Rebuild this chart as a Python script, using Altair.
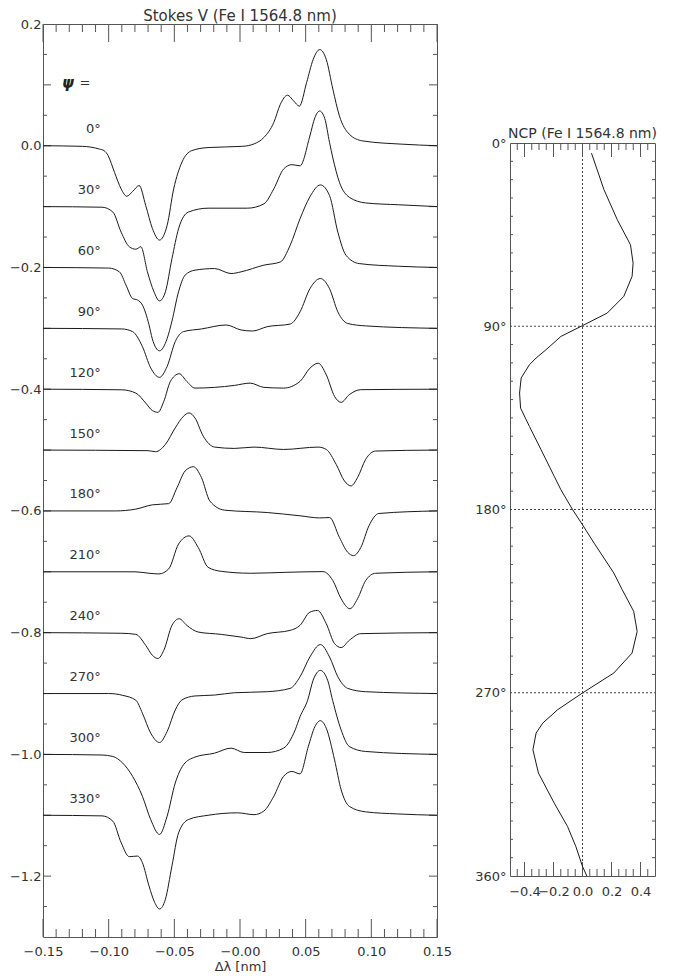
import altair as alt
import pandas as pd

# ---------------- data: Stokes V profiles (offset by -0.1 per curve) ----------------
PSI = [0, 30, 60, 90, 120, 150, 180, 210, 240, 270, 300, 330]
OFFSET_STEP = -0.1

X0 = [-0.15, -0.12, -0.107, -0.1035, -0.1005, -0.0955, -0.0905, -0.0862, -0.0817, -0.0768, -0.0718, -0.0667,
      -0.0613, -0.0555, -0.0505, -0.0442, -0.0367, -0.0243, 0.0018, 0.0107, 0.0182, 0.0257, 0.0307, 0.0362,
      0.0407, 0.0452, 0.0507, 0.0557, 0.0607, 0.0657, 0.0707, 0.0757, 0.0832, 0.0932, 0.1232, 0.15]
V0 = [0, -0.001, -0.0055, -0.008, -0.016, -0.044, -0.071, -0.083, -0.075, -0.0654, -0.098, -0.136,
      -0.155, -0.131, -0.071, -0.027, -0.008, -0.003, -0.001, 0.003, 0.0136, 0.038, 0.068, 0.083,
      0.074, 0.065, 0.1036, 0.1417, 0.158, 0.1417, 0.093, 0.049, 0.019, 0.008, 0.0026, 0]

X1 = [-0.15, -0.105, -0.0968, -0.0905, -0.0843, -0.0793, -0.0755, -0.0705, -0.0655, -0.0613, -0.0568, -0.0518,
      -0.0468, -0.0393, -0.0243, 0.0057, 0.0182, 0.0257, 0.0332, 0.0395, 0.0457, 0.0532, 0.057, 0.0607,
      0.0645, 0.0682, 0.0707, 0.0757, 0.0832, 0.0957, 0.1207, 0.15]
V1 = [0, -0.001, -0.009, -0.042, -0.066, -0.070, -0.066, -0.107, -0.14, -0.155, -0.14, -0.0855,
      -0.0365, -0.009, -0.0026, -0.0026, 0.0045, 0.029, 0.0617, 0.0689, 0.067, 0.116, 0.146, 0.157,
      0.145, 0.105, 0.08, 0.04, 0.0154, 0.006, 0.003, 0]

X2 = [-0.15, -0.1, -0.0918, -0.0868, -0.0818, -0.078, -0.0743, -0.0693, -0.0668, -0.0613, -0.0555, -0.0518,
      -0.0468, -0.0418, -0.0343, -0.0193, -0.0068, 0.0008, 0.0182, 0.0307, 0.0382, 0.0457, 0.0532, 0.0612,
      0.0682, 0.0745, 0.0807, 0.0907, 0.1207, 0.15]
V2 = [0, -0.001, -0.0072, -0.029, -0.051, -0.0535, -0.0617, -0.094, -0.117, -0.137, -0.117, -0.088,
      -0.04, -0.0126, -0.0044, -0.0018, -0.010, -0.0072, 0.0038, 0.009, 0.0365, 0.08, 0.116, 0.1356,
      0.118, 0.058, 0.02, 0.0064, 0.002, 0]

X3 = [-0.15, -0.09, -0.0818, -0.0743, -0.068, -0.0613, -0.0555, -0.0493, -0.043, -0.0293, -0.0105, 0.0008,
      0.0095, 0.0207, 0.0382, 0.0457, 0.0532, 0.0612, 0.0682, 0.0745, 0.082, 0.0957, 0.15]
V3 = [0, -0.001, -0.0054, -0.03, -0.065, -0.0805, -0.0627, -0.0218, -0.0054, -0.001, 0.0055, -0.0027,
      -0.0044, 0.0027, 0.007, 0.027, 0.065, 0.0818, 0.065, 0.027, 0.008, 0.004, 0]

X4 = [-0.15, -0.09, -0.0793, -0.0718, -0.0668, -0.0625, -0.058, -0.053, -0.0463, -0.0405, -0.0343, -0.0193,
      -0.0043, 0.0077, 0.0182, 0.0332, 0.0457, 0.0532, 0.0595, 0.0657, 0.072, 0.077, 0.0832, 0.092, 0.15]
V4 = [0, -0.001, -0.0064, -0.0227, -0.035, -0.038, -0.02, 0.0128, 0.0254, 0.0128, 0.0018, 0.003,
      0.0062, 0.01, 0.003, 0.0018, 0.0128, 0.0345, 0.0427, 0.0237, -0.0118, -0.0216, -0.009, -0.0008, 0]

X5 = [-0.15, -0.07, -0.0643, -0.0568, -0.0493, -0.043, -0.0388, -0.0343, -0.028, -0.0193, -0.0043, 0.0107,
      0.0332, 0.0595, 0.0657, 0.0732, 0.0795, 0.0845, 0.0895, 0.0957, 0.1032, 0.15]
V5 = [0, -0.001, -0.0027, 0.0093, 0.0365, 0.0556, 0.061, 0.0528, 0.0229, 0.0049, 0.0027, 0.0049,
      0.001, 0.0049, 0.001, -0.0234, -0.0507, -0.0589, -0.0452, -0.0152, -0.0016, 0]

X6 = [-0.15, -0.095, -0.0793, -0.0668, -0.0543, -0.048, -0.0418, -0.0355, -0.0293, -0.023, -0.0118, 0.0207,
      0.0457, 0.0607, 0.0682, 0.0757, 0.082, 0.0865, 0.092, 0.0982, 0.1057, 0.15]
V6 = [0, 0.0, 0.003, 0.01, 0.012, 0.038, 0.0656, 0.0726, 0.0546, 0.0165, 0.0013, -0.0026,
      -0.008, -0.0115, -0.0108, -0.0435, -0.068, -0.0734, -0.06, -0.0244, -0.0042, 0]

X7 = [-0.15, -0.08, -0.0693, -0.0618, -0.0543, -0.0468, -0.0388, -0.0318, -0.0243, -0.0143, 0.0082, 0.0357,
      0.0632, 0.0707, 0.077, 0.0837, 0.0895, 0.0957, 0.1032, 0.15]
V7 = [0, 0, -0.0024, -0.0035, 0.0047, 0.0456, 0.059, 0.04, 0.0074, 0.0008, -0.0024, -0.0008,
      0.0003, -0.0144, -0.0443, -0.0607, -0.0443, -0.0144, -0.0024, 0]

X8 = [-0.15, -0.09, -0.0793, -0.0718, -0.0668, -0.0625, -0.058, -0.0518, -0.0463, -0.0405, -0.0318, -0.0143,
      0.0008, 0.0082, 0.0207, 0.0382, 0.0457, 0.0532, 0.059, 0.0657, 0.072, 0.077, 0.0832, 0.092, 0.15]
V8 = [0, -0.001, -0.0028, -0.0208, -0.037, -0.0425, -0.029, 0.012, 0.0229, 0.012, 0.001, -0.0028,
      -0.0072, -0.0098, -0.0016, 0.0038, 0.012, 0.0337, 0.0365, 0.0147, -0.018, -0.0245, -0.0126, -0.0016, 0]

X9 = [-0.15, -0.1, -0.0893, -0.0793, -0.0743, -0.068, -0.0613, -0.0555, -0.0493, -0.0443, -0.0343, -0.0193,
      -0.0043, 0.0207, 0.0382, 0.0457, 0.0532, 0.0612, 0.0682, 0.0745, 0.082, 0.0957, 0.15]
V9 = [0, 0, -0.003, -0.011, -0.0324, -0.065, -0.0805, -0.0625, -0.027, -0.0106, -0.004, -0.0025,
      0.0013, 0.003, 0.0085, 0.0275, 0.06, 0.0805, 0.06, 0.0275, 0.0085, 0.003, 0]

X10 = [-0.15, -0.105, -0.0968, -0.0893, -0.0818, -0.0743, -0.068, -0.0613, -0.0555, -0.0493, -0.043, -0.0343,
       -0.0193, -0.0068, 0.0032, 0.0207, 0.0332, 0.042, 0.0457, 0.0515, 0.0557, 0.0612, 0.0667, 0.0705,
       0.077, 0.0832, 0.0957, 0.15]
V10 = [0, -0.001, -0.0034, -0.0143, -0.036, -0.0689, -0.107, -0.1315, -0.1016, -0.047, -0.017, -0.0044,
       0.0021, 0.0103, 0.0031, 0.0031, 0.0103, 0.0402, 0.062, 0.089, 0.122, 0.138, 0.122, 0.089,
       0.0402, 0.013, 0.0048, 0]

X11 = [-0.15, -0.105, -0.0968, -0.0905, -0.0843, -0.078, -0.0743, -0.0693, -0.065, -0.0613, -0.0568, -0.0518,
       -0.0468, -0.0393, -0.0243, -0.0018, 0.0107, 0.0182, 0.0257, 0.0332, 0.0395, 0.0457, 0.052, 0.057,
       0.0612, 0.0657, 0.072, 0.077, 0.0832, 0.0957, 0.12, 0.15]
V11 = [0, -0.001, -0.0098, -0.045, -0.068, -0.067, -0.078, -0.116, -0.143, -0.154, -0.138, -0.083,
       -0.029, -0.007, 0, 0.004, 0.001, 0.007, 0.031, 0.064, 0.072, 0.068, 0.1128, 0.1455,
       0.1554, 0.143, 0.091, 0.042, 0.0147, 0.0056, 0.0022, 0]

CURVES_X = [X0, X1, X2, X3, X4, X5, X6, X7, X8, X9, X10, X11]
CURVES_V = [V0, V1, V2, V3, V4, V5, V6, V7, V8, V9, V10, V11]

# ---------------- data: net circular polarisation vs azimuth ----------------
ANGLE = [5, 22.9, 37.7, 50, 59, 65.5, 75.3, 83.5, 89.7, 95, 101.5, 105.6, 108.9, 115.4, 122.8, 130.2,
         139.2, 150.6, 163.7, 170.3, 180.1, 187.5, 196.5, 211.2, 219.4, 230, 239.9, 250.5, 260.3, 270.1,
         278.3, 284.9, 289.8, 298, 309.4, 324.2, 335.7, 345.5, 355.3, 360]
NCP = [0.062, 0.148, 0.24, 0.331, 0.349, 0.342, 0.285, 0.171, 0.0, -0.149, -0.251, -0.32, -0.366, -0.423,
       -0.434, -0.427, -0.366, -0.286, -0.195, -0.149, -0.068, 0.0, 0.08, 0.216, 0.274, 0.353, 0.377,
       0.342, 0.216, 0.0, -0.171, -0.274, -0.32, -0.342, -0.304, -0.195, -0.103, -0.046, 0.0, 0.03]

# ---------------- tick positions ----------------
XMAJ_L = [-0.15, -0.10, -0.05, 0.0, 0.05, 0.10, 0.15]
XMIN_L = [-0.14, -0.13, -0.12, -0.11, -0.09, -0.08, -0.07, -0.06, -0.04, -0.03, -0.02, -0.01,
          0.01, 0.02, 0.03, 0.04, 0.06, 0.07, 0.08, 0.09, 0.11, 0.12, 0.13, 0.14]
YLAB_L = [0.2, 0.0, -0.2, -0.4, -0.6, -0.8, -1.0, -1.2]
YMAJ_L = [0.1, 0.0, -0.1, -0.2, -0.3, -0.4, -0.5, -0.6, -0.7, -0.8, -0.9, -1.0, -1.1, -1.2]
YMIN_L = [0.15, 0.05, -0.05, -0.15, -0.25, -0.35, -0.45, -0.55, -0.65, -0.75, -0.85, -0.95, -1.05,
          -1.15, -1.25]
XMAJ_R = [-0.4, -0.2, 0.0, 0.2, 0.4]
XMIN_R = [-0.45, -0.35, -0.3, -0.25, -0.15, -0.1, -0.05, 0.05, 0.1, 0.15, 0.25, 0.3, 0.35, 0.45]
YLAB_R = [0, 90, 180, 270, 360]
YMIN_R = [9, 18, 27, 36, 45, 54, 63, 72, 81, 99, 108, 117, 126, 135, 144, 153, 162, 171,
          189, 198, 207, 216, 225, 234, 243, 252, 261, 279, 288, 297, 306, 315, 324, 333, 342, 351]
GRID_R = [90, 180, 270]

# ---------------- build tables ----------------
rows = []
for i, (xs_, vs_) in enumerate(zip(CURVES_X, CURVES_V)):
    for x, v in zip(xs_, vs_):
        rows.append({"psi": PSI[i], "dl": x, "V": v + i * OFFSET_STEP})
prof = pd.DataFrame(rows)
labels = pd.DataFrame({"dl": [-0.106] * len(PSI),
                       "V": [i * OFFSET_STEP + 0.027 for i in range(len(PSI))],
                       "lab": [f"{p}°" for p in PSI]})
ncp = pd.DataFrame({"ang": ANGLE, "ncp": NCP})

W, H = 394, 913
WR, HR = 145, 733
TXT = "#333333"
TICK = "#555555"
FONT = "DejaVu Sans"

xs = alt.Scale(domain=[-0.15, 0.15], nice=False, zero=False)
ys = alt.Scale(domain=[-1.3, 0.2], nice=False, zero=False)
ax_x = alt.Axis(values=XMAJ_L, labelExpr="datum.value == 0 ? '−0.00' : format(datum.value, '.2f')",
                title="Δλ [nm]", labelPadding=8, titlePadding=2, labelOverlap=False, labelFlush=False,
                ticks=False, domain=False, grid=False)
ax_y = alt.Axis(values=YLAB_L, format=".1f", title=None, labelPadding=2, labelOverlap=False,
                labelFlush=False, ticks=False, domain=False, grid=False)


def xenc(field="dl"):
    return alt.X(f"{field}:Q", scale=xs, axis=ax_x)


def yenc(field="V"):
    return alt.Y(f"{field}:Q", scale=ys, axis=ax_y)


curves = alt.Chart(prof).mark_line(color="#1a1a1a", strokeWidth=1, interpolate="monotone").encode(
    x=xenc(), y=yenc(), detail="psi:N")

psi_text = alt.Chart(labels).mark_text(align="right", baseline="middle", fontSize=13, color=TXT).encode(
    x=xenc(), y=yenc(), text="lab:N")

psi_sym = alt.Chart(pd.DataFrame({"dl": [-0.131], "V": [0.1035], "t": ["ψ"]})).mark_text(
    fontSize=15, fontStyle="italic", fontWeight="bold", color="#222", baseline="middle").encode(
    x=xenc(), y=yenc(), text="t:N")
psi_eq = alt.Chart(pd.DataFrame({"dl": [-0.118], "V": [0.1035], "t": ["="]})).mark_text(
    fontSize=13, color=TXT, baseline="middle").encode(x=xenc(), y=yenc(), text="t:N")


def xticks(vals, length):
    d = pd.DataFrame({"dl": vals})
    bot = alt.Chart(d).mark_rule(color=TICK, strokeWidth=1).encode(
        x=xenc(), y=alt.value(H), y2=alt.value(H - length))
    top = alt.Chart(d).mark_rule(color=TICK, strokeWidth=1).encode(
        x=xenc(), y=alt.value(0), y2=alt.value(length))
    return [bot, top]


def yticks(vals, length):
    d = pd.DataFrame({"V": vals})
    lft = alt.Chart(d).mark_rule(color=TICK, strokeWidth=1).encode(
        y=yenc(), x=alt.value(0), x2=alt.value(length))
    rgt = alt.Chart(d).mark_rule(color=TICK, strokeWidth=1).encode(
        y=yenc(), x=alt.value(W), x2=alt.value(W - length))
    return [lft, rgt]


left = alt.layer(
    *xticks(XMAJ_L, 18), *xticks(XMIN_L, 8), *yticks(YMAJ_L, 8), *yticks(YMIN_L, 4),
    curves, psi_text, psi_sym, psi_eq
).properties(
    width=W, height=H,
    title=alt.TitleParams("Stokes V (Fe I 1564.8 nm)", frame="group", fontSize=15, fontWeight="normal",
                          offset=-6, color=TXT, font=FONT))

# ---------------- right panel ----------------
rxs = alt.Scale(domain=[-0.5, 0.5], nice=False, zero=False)
rys = alt.Scale(domain=[0, 360], reverse=True, nice=False, zero=False)
rax_x = alt.Axis(values=XMAJ_R, format=".1f", title=None, labelPadding=9, labelOverlap=False,
                 labelFlush=False, ticks=False, domain=False, grid=False)
rax_y = alt.Axis(values=YLAB_R, labelExpr="datum.value + '°'", title=None, labelPadding=4,
                 labelOverlap=False, labelFlush=False, ticks=False, domain=False, grid=False)


def rx(field="ncp"):
    return alt.X(f"{field}:Q", scale=rxs, axis=rax_x)


def ry(field="ang"):
    return alt.Y(f"{field}:Q", scale=rys, axis=rax_y)


def rxticks(vals, length):
    d = pd.DataFrame({"ncp": vals})
    return [alt.Chart(d).mark_rule(color=TICK, strokeWidth=1).encode(
                x=rx(), y=alt.value(HR), y2=alt.value(HR - length)),
            alt.Chart(d).mark_rule(color=TICK, strokeWidth=1).encode(
                x=rx(), y=alt.value(0), y2=alt.value(length))]


def ryticks(vals, length):
    d = pd.DataFrame({"ang": vals})
    return [alt.Chart(d).mark_rule(color=TICK, strokeWidth=1).encode(
                y=ry(), x=alt.value(0), x2=alt.value(length)),
            alt.Chart(d).mark_rule(color=TICK, strokeWidth=1).encode(
                y=ry(), x=alt.value(WR), x2=alt.value(WR - length))]


hgrid = alt.Chart(pd.DataFrame({"ang": GRID_R})).mark_rule(
    color="#444", strokeWidth=1, strokeDash=[2, 2]).encode(y=ry(), x=alt.value(0), x2=alt.value(WR))
vgrid = alt.Chart(pd.DataFrame({"ncp": [0.0]})).mark_rule(
    color="#444", strokeWidth=1, strokeDash=[2, 2]).encode(x=rx(), y=alt.value(0), y2=alt.value(HR))
ncp_line = alt.Chart(ncp).mark_line(color="#1a1a1a", strokeWidth=1).encode(
    x=rx(), y=ry(), order="ang:Q")

right = alt.layer(
    hgrid, vgrid, *rxticks(XMAJ_R, 14), *rxticks(XMIN_R, 7), *ryticks(YMIN_R, 3), ncp_line
).properties(
    width=WR, height=HR,
    title=alt.TitleParams("NCP (Fe I 1564.8 nm)", frame="group", fontSize=14, fontWeight="normal",
                          offset=-4, color=TXT, font=FONT))

spacer = alt.Chart(pd.DataFrame({"a": [0]})).mark_point(opacity=0).properties(
    width=WR, height=119, view=alt.ViewBackground(strokeOpacity=0))

chart = alt.hconcat(
    left, alt.vconcat(spacer, right, spacing=0, bounds="flush"), spacing=73, bounds="flush"
).properties(
    padding={"left": 0, "top": 0, "right": 0, "bottom": 0}
).configure(font=FONT).configure_view(stroke="#555555", strokeWidth=1).configure_axis(
    labelFont=FONT, labelFontSize=13, labelColor=TXT, titleFont=FONT, titleFontSize=13,
    titleFontWeight="normal", titleColor=TXT)

chart.save("out.html", embed_options={"renderer": "svg", "actions": False})
